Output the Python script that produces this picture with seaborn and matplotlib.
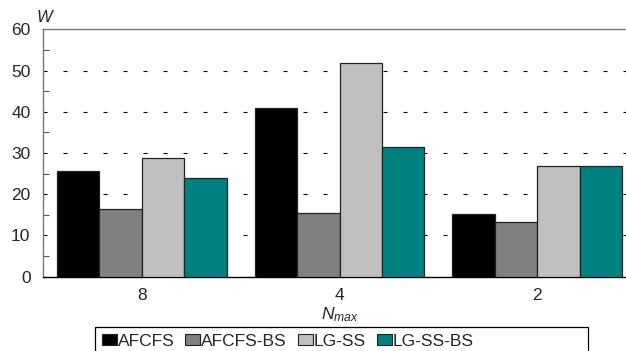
import numpy as np
import pandas as pd
import matplotlib
matplotlib.use("Agg")
import matplotlib.pyplot as plt
import seaborn as sns

# values
n_max = ["8", "4", "2"]
methods = ["AFCFS", "AFCFS-BS", "LG-SS", "LG-SS-BS"]
afcfs = [25.6, 41.0, 15.3]
afcfs_bs = [16.5, 15.5, 13.3]
lg_ss = [28.9, 51.8, 26.8]
lg_ss_bs = [24.0, 31.5, 26.8]
colors = ["#000000", "#808080", "#C0C0C0", "#008080"]

rows = []
for name, vals in zip(methods, [afcfs, afcfs_bs, lg_ss, lg_ss_bs]):
    for n, v in zip(n_max, vals):
        rows.append({"Nmax": n, "method": name, "W": v})
df = pd.DataFrame(rows)

sns.set_style("white")
plt.rcParams["font.family"] = ["Liberation Sans", "DejaVu Sans"]
plt.rcParams["mathtext.fontset"] = "custom"
plt.rcParams["mathtext.it"] = "Liberation Sans:italic"
plt.rcParams["mathtext.rm"] = "Liberation Sans"

fs = 12.5

fig = plt.figure(figsize=(6.26, 3.51), dpi=100)
ax = fig.add_axes([43 / 626, 1 - 276.7 / 351, (636 - 43) / 626, (276.7 - 29.3) / 351])

sns.barplot(data=df, x="Nmax", y="W", hue="method", order=n_max, hue_order=methods,
            palette=colors, saturation=1, width=0.86, gap=0, edgecolor="#222222",
            linewidth=0.9, ax=ax, legend=False, zorder=3)

ax.set_ylim(0, 60)
ax.set_xlim(-0.5, 2.5)
ax.set_yticks(np.arange(0, 61, 10))
ax.set_yticks(np.arange(5, 60, 10), minor=True)
ax.tick_params(axis="y", which="major", length=0, pad=9, labelsize=fs)
ax.tick_params(axis="y", which="minor", direction="in", length=4, width=0.8, color="#555555", left=True)
ax.tick_params(axis="x", length=0, pad=8, labelsize=fs)
ax.set_xlabel("")
ax.set_ylabel("")

for y in range(10, 60, 10):
    ax.axhline(y, color="black", linewidth=0.8, linestyle=(0, (3.6, 14.4)), zorder=1)
ax.axhline(0, color="#bbbbbb", linewidth=0.8, linestyle=(0, (3.6, 14.4)), zorder=1)

for side in ["top", "left"]:
    ax.spines[side].set_color("#777777")
    ax.spines[side].set_linewidth(1.0)
ax.spines["bottom"].set_color("black")
ax.spines["bottom"].set_linewidth(1.0)
ax.spines["right"].set_visible(False)

fig.text(44 / 626, 1 - 17 / 351, "W", fontsize=12, style="italic", ha="center", va="center")
fig.text(340 / 626, 1 - 305 / 351, r"$N_{max}$", fontsize=12.5, ha="center", va="top")

handles = [plt.Rectangle((0, 0), 1, 1, facecolor=c, edgecolor="#222222", linewidth=0.8) for c in colors]
leg = fig.legend(handles, methods, loc="upper left", bbox_to_anchor=(95 / 626, 1 - 327 / 351),
                 ncol=4, frameon=False, fontsize=fs, handlelength=0.86,
                 handleheight=0.57, handletextpad=0.05, columnspacing=0.63,
                 borderpad=0.4, borderaxespad=0)

# the legend box in the reference is wider than its entries
box = plt.Rectangle((95 / 626, -0.05), (588 - 95) / 626, 0.05 + 1 - 327 / 351,
                    transform=fig.transFigure, fill=False, edgecolor="black", linewidth=0.9)
fig.patches.append(box)

fig.savefig("out.png", dpi=100)
